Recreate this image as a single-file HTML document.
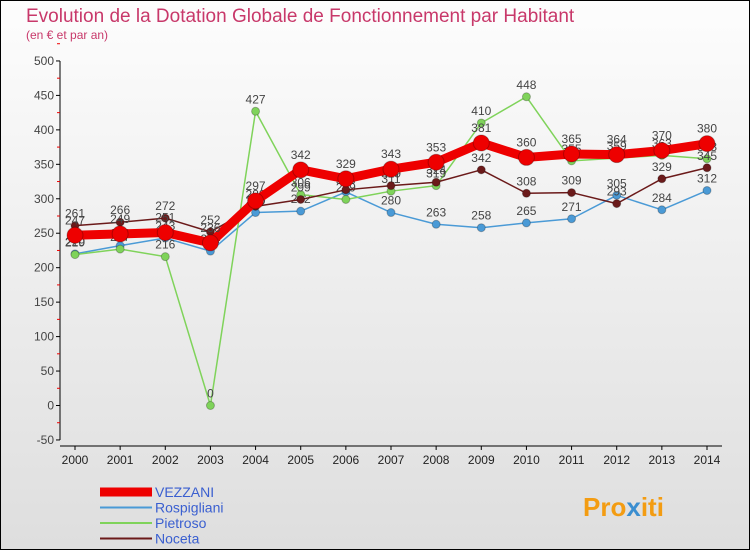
<!DOCTYPE html>
<html><head><meta charset="utf-8"><style>
body{margin:0;width:750px;height:550px;overflow:hidden;font-family:"Liberation Sans",sans-serif}
</style></head><body>
<svg id="c" width="750" height="550" xmlns="http://www.w3.org/2000/svg">
<defs><linearGradient id="bg" x1="0" y1="0" x2="0" y2="1"><stop offset="0" stop-color="#fdfdfd"/><stop offset="1" stop-color="#dedede"/></linearGradient></defs>
<rect x="0.5" y="0.5" width="749" height="549" fill="url(#bg)" stroke="#000"/>
<text x="26" y="22" font-size="19" fill="#c8386a">Evolution de la Dotation Globale de Fonctionnement par Habitant</text>
<text x="26" y="39" font-size="12" fill="#c8386a">(en € et par an)</text>
<g id="axes"></g><g id="series"></g><g id="legend"></g>
<text x="583" y="516" font-size="26" font-weight="bold" fill="#f39c12">Pro<tspan fill="#3a8ed0">x</tspan>iti</text>
</svg>
<script>
const years=[2000,2001,2002,2003,2004,2005,2006,2007,2008,2009,2010,2011,2012,2013,2014];
const yTicks=[-50,0,50,100,150,200,250,300,350,400,450,500];
const vezzani=[247,249,251,236,297,342,329,343,353,381,360,365,364,370,380];
const rospigliani=[220,232,243,224,280,282,310,280,263,258,265,271,305,284,312];
const pietroso=[219,227,216,0,427,306,299,311,319,410,448,355,359,363,358];
const noceta=[261,266,272,252,289,299,313,319,324,342,308,309,293,329,345];
const NS="http://www.w3.org/2000/svg";
const X=i=>75+i*(707-75)/14;
const Y=v=>405.5-v*(379/550);
function el(t,a,p){const e=document.createElementNS(NS,t);for(const k in a)e.setAttribute(k,a[k]);p.appendChild(e);return e;}
const ax=document.getElementById('axes');
const yl=el('line',{x1:60,y1:Y(500),x2:60,y2:Y(-50),stroke:'#000'},ax);


const xl=el('line',{x1:60,y1:Y(-50)+6,x2:722,y2:Y(-50)+6,stroke:'#000'},ax);


yTicks.forEach(v=>{
 el('line',{x1:56,y1:Y(v),x2:60,y2:Y(v),stroke:'#000'},ax);
 el('line',{x1:57,y1:Y(v+25),x2:60,y2:Y(v+25),stroke:'#e00'},ax);
 const t=el('text',{x:54,y:Y(v)+4,'font-size':12,'text-anchor':'end',fill:'#444'},ax);t.textContent=v;
 
 
});
years.forEach((y,i)=>{
 el('line',{x1:X(i),y1:Y(-50)+6,x2:X(i),y2:Y(-50)+10,stroke:'#000'},ax);
 const t=el('text',{x:X(i),y:464,'font-size':12,'text-anchor':'middle',fill:'#222'},ax);t.textContent=y;
 
 
});
const sg=document.getElementById('series');
const defs=[
 {d:rospigliani,c:'#4a9ad6',w:1.5,r:4,n:'rospigliani'},
 {d:pietroso,c:'#7fd35a',w:1.5,r:4,n:'pietroso'},
 {d:noceta,c:'#6b1a1a',w:1.5,r:4,n:'noceta'},
 {d:vezzani,c:'#ee0000',w:9,r:8,n:'vezzani'}];
defs.forEach(s=>{
 const g=el('g',{},sg);
 
 
 const pl=el('polyline',{points:s.d.map((v,i)=>X(i)+','+Y(v)).join(' '),fill:'none',stroke:s.c,'stroke-width':s.w,'stroke-linejoin':'round'},g);
 
 
 s.d.forEach((v,i)=>{
  const c=el('circle',{cx:X(i),cy:Y(v),r:s.r,fill:s.c,stroke:'rgba(0,0,0,0.25)'},g);
  
  
  const t=el('text',{x:X(i),y:Y(v)-8-(s.r>4?3:0),'font-size':12,'text-anchor':'middle',fill:'#444'},g);t.textContent=v;
  
  
 });
});
const lg=document.getElementById('legend');
defs.slice(3).concat(defs.slice(0,3)).forEach((s,i)=>{
 const y=492+i*15.5;
 const g=el('g',{},lg);
 
 
 el('line',{x1:100,y1:y,x2:152,y2:y,stroke:s.c,'stroke-width':s.n==='vezzani'?9:2},g);
 const t=el('text',{x:155,y:y+5,'font-size':14,fill:'#3a5fd0'},g);t.textContent=s.n==='vezzani'?'VEZZANI':s.n[0].toUpperCase()+s.n.slice(1);
});
</script>
</body></html>
